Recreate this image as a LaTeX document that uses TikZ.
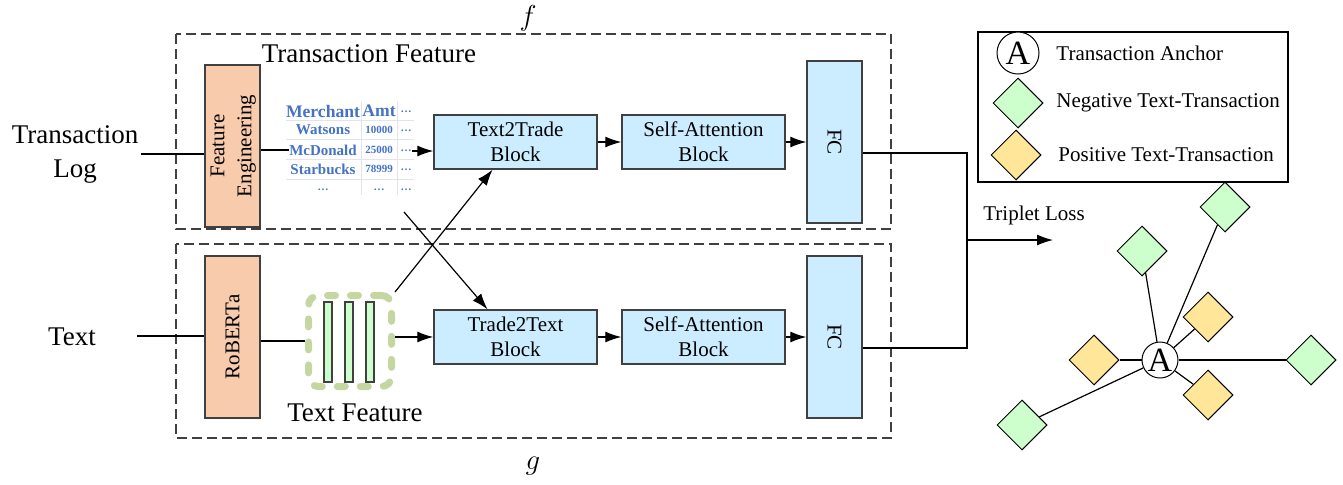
\documentclass[tikz,border=0pt]{standalone}
\usepackage{fontspec}
\usepackage{graphicx}
\setmainfont{Liberation Serif}
\usetikzlibrary{arrows.meta,shapes.geometric}

\definecolor{peach}{RGB}{248,203,173}
\definecolor{skyfill}{RGB}{204,236,255}
\definecolor{mintfill}{RGB}{204,255,204}
\definecolor{butterfill}{RGB}{255,230,153}
\definecolor{tableblue}{RGB}{68,114,196}
\definecolor{sagegreen}{RGB}{197,214,160}
\definecolor{darkline}{RGB}{64,64,64}
\definecolor{gridgray}{RGB}{225,228,235}

\tikzset{
  >={Latex[length=8pt,width=5.5pt]},
  biglabel/.style={font=\fontsize{13.5}{17}\selectfont, inner sep=1pt},
  smalllabel/.style={font=\fontsize{10.5}{12.5}\selectfont, inner sep=1pt},
  prepbox/.style={draw=darkline, fill=peach, line width=0.7pt, minimum width=27.5pt, minimum height=81pt, inner sep=0pt, font=\fontsize{10.5}{13.5}\selectfont},
  blockbox/.style={draw=darkline, fill=skyfill, line width=0.7pt, minimum width=81.5pt, minimum height=27pt, inner sep=0pt, align=center, font=\fontsize{10.5}{12.5}\selectfont},
  fcbox/.style={draw=darkline, fill=skyfill, line width=0.7pt, minimum width=27.5pt, minimum height=81pt, inner sep=0pt, font=\fontsize{10.5}{12.5}\selectfont},
  partbox/.style={draw=darkline, line width=0.6pt, dash pattern=on 5pt off 2.5pt},
  featbar/.style={draw=darkline, fill=mintfill, line width=0.6pt, minimum width=4pt, minimum height=40pt, inner sep=0pt},
  negdia/.style={diamond, draw=black, fill=mintfill, line width=0.5pt, minimum width=25pt, minimum height=25pt, inner sep=0pt},
  posdia/.style={diamond, draw=black, fill=butterfill, line width=0.5pt, minimum width=25pt, minimum height=25pt, inner sep=0pt},
  anchorcirc/.style={circle, draw=black, fill=white, line width=0.5pt, inner sep=0pt, font=\fontsize{17}{17}\selectfont},
  headcell/.style={text=tableblue, inner sep=0pt, font=\bfseries\fontsize{8.8}{10}\selectfont},
  namecell/.style={text=tableblue, inner sep=0pt, font=\bfseries\fontsize{7.5}{9}\selectfont},
  numcell/.style={text=tableblue, inner sep=0pt, font=\bfseries\fontsize{5.5}{7}\selectfont},
  gridline/.style={draw=gridgray, line width=0.4pt},
  link/.style={line width=0.6pt},
}

\begin{document}
\begin{tikzpicture}[x=0.5pt,y=-0.5pt]
\useasboundingbox (0,0) rectangle (1343,484);

% two branches
\draw[partbox] (176,34) rectangle (891,229);
\draw[partbox] (176,244) rectangle (891,438);
\node[biglabel] at (528,18) (flab) {$f$};
\node[biglabel] at (533,466) (glab) {$g$};
\node[biglabel] at (369,54) (tfeat) {Transaction Feature};

% inputs
\node[biglabel, align=center] at (75,154) (log) {Transaction\\Log};
\node[biglabel] at (72,337) (txt) {Text};
\coordinate (txtin) at (137,336);

\node[prepbox] at (232.5,146) (fe) {\rotatebox{90}{\begin{tabular}{@{}c@{}}Feature\\Engineering\end{tabular}}};
\node[prepbox] at (232.5,337) (rob) {\rotatebox{90}{RoBERTa}};

% transaction table
\draw[gridline] (361,102) -- (361,195);
\draw[gridline] (397,102) -- (397,195);
\draw[gridline] (286,120) -- (414,120);
\draw[gridline] (286,139) -- (414,139);
\draw[gridline] (286,159) -- (414,159);
\draw[gridline] (286,179) -- (414,179);
\node[headcell] at (323,111) (hmerch) {Merchant};
\node[headcell] at (379,111) (hamt) {Amt};
\node[numcell] at (406,112) (hdots) {…};
\node[namecell] at (323,130) (watsons) {Watsons};
\node[numcell] at (379,130) (wamt) {10000};
\node[numcell] at (406,131) (wdots) {…};
\node[namecell] at (323,150) (mcd) {McDonald};
\node[numcell] at (379,150) (mamt) {25000};
\node[numcell] at (406,151) (mdots) {…};
\node[namecell] at (323,169) (starb) {Starbucks};
\node[numcell] at (379,169) (samt) {78999};
\node[numcell] at (406,170) (sdots) {…};
\node[numcell] at (323,190) (rdots) {…};
\node[numcell] at (379,190) (adots) {…};
\node[numcell] at (406,190) (edots) {…};

% text feature
\node[draw=sagegreen, line width=3.5pt, line cap=round, dash pattern=on 4pt off 7.5pt, rounded corners=5pt, minimum width=41.5pt, minimum height=45.5pt, inner sep=0pt] at (350,341) (tfbox) {};
\node[featbar] at (328,342) (bara) {};
\node[featbar] at (349,342) (barb) {};
\node[featbar] at (370,342) (barc) {};
\node[biglabel] at (355,413) (tflab) {Text Feature};

% blocks
\node[blockbox] at (515.5,142) (t2t) {Text2Trade\\Block};
\node[blockbox] at (703.5,142) (saf) {Self-Attention\\Block};
\node[blockbox] at (515.5,337) (tr2t) {Trade2Text\\Block};
\node[blockbox] at (703.5,337) (sag) {Self-Attention\\Block};
\node[fcbox] at (834.5,142) (fcf) {\rotatebox{-90}{FC}};
\node[fcbox] at (834.5,337) (fcg) {\rotatebox{-90}{FC}};

\draw[link] (log.east) -- (log.east -| fe.west);
\draw[link] (mcd.west -| fe.east) -- (mcd.west);
\draw[link, ->] (mdots.east) -- (mdots.east -| t2t.west);
\draw[link, ->] (t2t) -- (saf);
\draw[link, ->] (saf) -- (fcf);

\draw[link] (txtin) -- (txtin -| rob.west);
\draw[link] (rob.east |- tfbox.west) -- (tfbox.west);
\draw[link, ->] (tr2t.west -| tfbox.east) -- (tr2t.west);
\draw[link, ->] (tr2t) -- (sag);
\draw[link, ->] (sag) -- (fcg);

\coordinate (crossb) at (404,212);
\draw[link, ->] (tfbox.north east) -- ([xshift=-11.5pt]t2t.south);
\draw[link, ->] (crossb) -- ([xshift=-14pt]tr2t.north);

% triplet loss
\coordinate (merge) at (967,240);
\coordinate (loss) at (1053,240);
\draw[link] ([yshift=-5.5pt]fcf.east) -| (merge) |- ([yshift=-5.5pt]fcg.east);
\draw[link, ->] (merge) -- (loss);
\node[smalllabel] at (1034,215) (tloss) {Triplet Loss};

% legend
\draw[line width=0.6pt] (978,32) rectangle (1288,182);
\node[anchorcirc, minimum size=21pt] at (1018,53) (leganc) {A};
\node[negdia] at (1018,103) (legneg) {};
\node[posdia] at (1016,155) (legpos) {};
\node[smalllabel, anchor=west] at (1054,53) (legtxta) {Transaction Anchor};
\node[smalllabel, anchor=west] at (1054,103) (legtxtb) {Negative Text-Transaction};
\node[smalllabel, anchor=west] at (1056,155) (legtxtc) {Positive Text-Transaction};

% embedding space
\node[anchorcirc, minimum size=18pt] at (1160,360) (hub) {A};
\node[negdia] at (1225,207) (nega) {};
\node[negdia] at (1142,251) (negb) {};
\node[negdia] at (1311,360) (negc) {};
\node[negdia] at (1022,425) (negd) {};
\node[posdia] at (1208,317) (posa) {};
\node[posdia] at (1094,360) (posb) {};
\node[posdia] at (1208,395) (posc) {};

\draw[link] (hub) -- (nega);
\draw[link] (hub) -- (negb);
\draw[link] (hub) -- (negc);
\draw[link] (hub) -- (negd);
\draw[link] (hub) -- (posa);
\draw[link] (hub) -- (posb);
\draw[link] (hub) -- (posc);

\end{tikzpicture}
\end{document}
